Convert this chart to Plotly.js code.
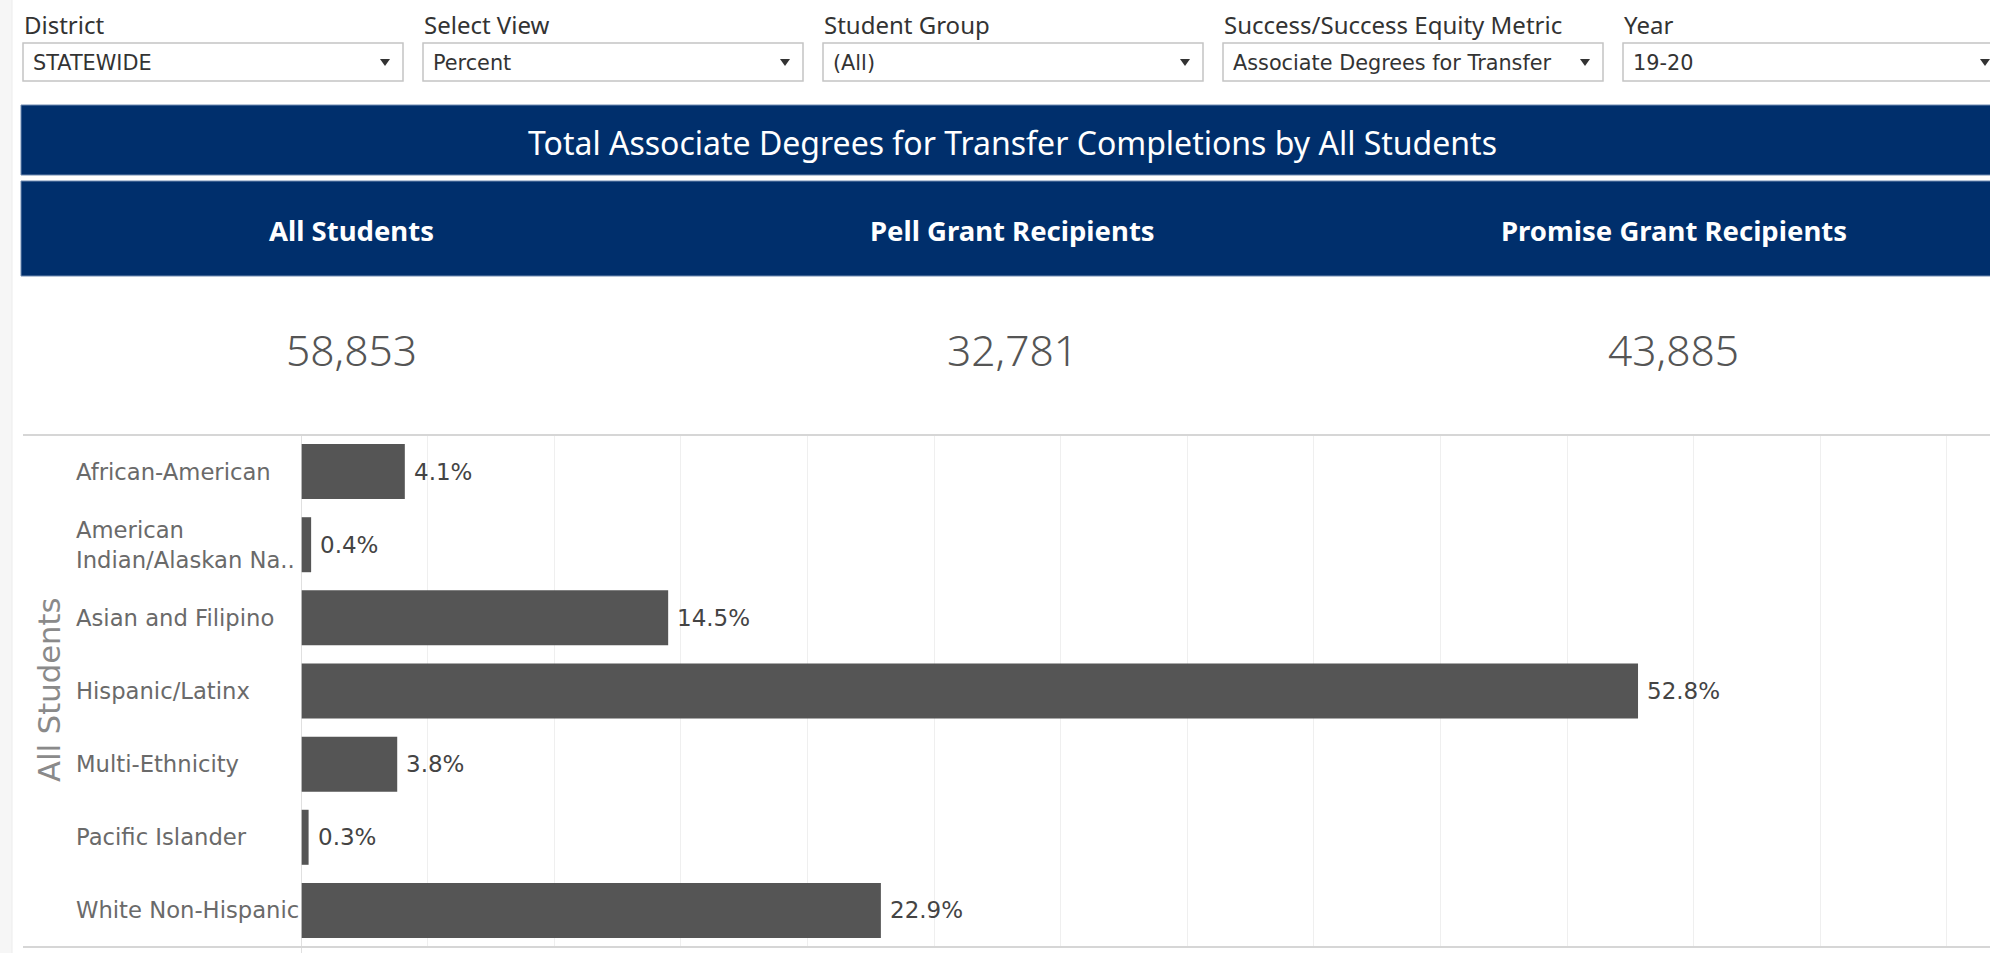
<!DOCTYPE html>
<html>
<head>
<meta charset="utf-8">
<script src="https://cdn.plot.ly/plotly-3.0.1.min.js"></script>
<style>
html,body{margin:0;padding:0;background:#fff;overflow:hidden;}
#chart{width:1990px;height:953px;}
</style>
</head>
<body>
<div id="chart"></div>
<script>
// ---- data ----
const categories = ["African-American", "American<br>Indian/Alaskan Na..", "Asian and Filipino", "Hispanic/Latinx", "Multi-Ethnicity", "Pacific Islander", "White Non-Hispanic"];
const percentValues = [4.1, 0.4, 14.5, 52.8, 3.8, 0.3, 22.9];
const groupName = "All Students";
const kpiLabels = ["All Students", "Pell Grant Recipients", "Promise Grant Recipients"];
const kpiValues = ["58,853", "32,781", "43,885"];
const chartTitle = "Total Associate Degrees for Transfer Completions by All Students";
const filterLabels = ["District", "Select View", "Student Group", "Success/Success Equity Metric", "Year"];
const filterValues = ["STATEWIDE", "Percent", "(All)", "Associate Degrees for Transfer", "19-20"];

// ---- layout geometry (pixels) ----
const W = 1990, H = 953, L = 301, R = 0, T = 435, B = 6;
const pw = W - L - R, ph = H - T - B;
const px = x => (x - L) / pw;
const py = y => (H - B - y) / ph;
const FONT = "Noto Sans, Open Sans, sans-serif";
const BOOK = "DejaVu Sans, Noto Sans, sans-serif";
const NAVY = "#002f6c";

const shapes = [];
const annotations = [];

// left strip
shapes.push({type: "rect", xref: "paper", yref: "paper", x0: px(0), x1: px(12), y0: py(953), y1: py(0),
  fillcolor: "#f6f6f6", line: {width: 0}, layer: "below"});
shapes.push({type: "line", xref: "paper", yref: "paper", x0: px(12), x1: px(12), y0: py(953), y1: py(0),
  line: {color: "#ececec", width: 1}});

// filters
const boxStart = 23, boxStep = 400, boxW = 380;
filterLabels.forEach((lab, i) => {
  const bx = boxStart + i * boxStep;
  annotations.push({xref: "paper", yref: "paper", x: px(bx - 1), y: py(24), xanchor: "left", yanchor: "middle",
    text: lab, showarrow: false, font: {family: FONT, size: 24, color: "#333"}});
  shapes.push({type: "rect", xref: "paper", yref: "paper", x0: px(bx), x1: px(bx + boxW), y0: py(81), y1: py(43),
    fillcolor: "#fff", line: {color: "#c4c4c4", width: 1.5}});
  annotations.push({xref: "paper", yref: "paper", x: px(bx + 8), y: py(63), xanchor: "left", yanchor: "middle",
    text: filterValues[i], showarrow: false, font: {family: BOOK, size: 20.8, color: "#333"}});
  const ax = bx + boxW - 18, ay = 62;
  shapes.push({type: "path", xref: "paper", yref: "paper",
    path: `M ${px(ax - 5)} ${py(ay - 3)} L ${px(ax + 5)} ${py(ay - 3)} L ${px(ax)} ${py(ay + 4)} Z`,
    fillcolor: "#333", line: {width: 0}});
});

// title band
const bandL = 21, bandR = 2004;
shapes.push({type: "rect", xref: "paper", yref: "paper", x0: px(bandL), x1: px(bandR), y0: py(175), y1: py(105),
  fillcolor: NAVY, line: {color: "#6f8ab0", width: 1}});
annotations.push({xref: "paper", yref: "paper", x: px((bandL + bandR) / 2), y: py(142), xanchor: "center", yanchor: "middle",
  text: chartTitle, showarrow: false, font: {family: FONT, size: 32, color: "#fff"}});

// KPI band
shapes.push({type: "rect", xref: "paper", yref: "paper", x0: px(bandL), x1: px(bandR), y0: py(276), y1: py(181),
  fillcolor: NAVY, line: {color: "#6f8ab0", width: 1}});
const colW = (bandR - bandL) / 3;
kpiLabels.forEach((lab, i) => {
  const cx = bandL + colW * (i + 0.5);
  annotations.push({xref: "paper", yref: "paper", x: px(cx), y: py(230), xanchor: "center", yanchor: "middle",
    text: "<b>" + lab + "</b>", showarrow: false, font: {family: FONT, size: 27.5, color: "#fff"}});
  annotations.push({xref: "paper", yref: "paper", x: px(cx), y: py(349), xanchor: "center", yanchor: "middle",
    text: kpiValues[i], showarrow: false, font: {family: FONT, size: 42.5, color: "#555", weight: 300}});
});

// chart borders
shapes.push({type: "line", xref: "paper", yref: "paper", x0: px(23), x1: px(W), y0: py(435), y1: py(435),
  line: {color: "#d6d6d6", width: 2}});
shapes.push({type: "line", xref: "paper", yref: "paper", x0: px(23), x1: px(W), y0: py(947), y1: py(947),
  line: {color: "#d6d6d6", width: 2}});
shapes.push({type: "line", xref: "x", yref: "paper", x0: 0, x1: 0, y0: py(953), y1: py(435),
  line: {color: "#d6d6d6", width: 1.5}});

// row labels
categories.forEach(c => {
  annotations.push({xref: "paper", yref: "y", x: px(74), y: c, xanchor: "left", yanchor: "middle", align: "left",
    text: c, showarrow: false, font: {family: BOOK, size: 22.7, color: "#6a6a6a"}});
});
// value labels
percentValues.forEach((v, i) => {
  annotations.push({xref: "x", yref: "y", x: v, y: categories[i], xanchor: "left", yanchor: "middle", xshift: 7,
    text: v.toFixed(1) + "%", showarrow: false, font: {family: BOOK, size: 23, color: "#444"}});
});
// group title (rotated)
annotations.push({xref: "paper", yref: "paper", x: px(49), y: py(690), xanchor: "center", yanchor: "middle",
  text: groupName, textangle: -90, showarrow: false, font: {family: BOOK, size: 30.7, color: "#8a8a8a"}});

const trace = {
  type: "bar", orientation: "h", x: percentValues, y: categories,
  marker: {color: "#555555", line: {width: 0}}, hoverinfo: "none"
};

const layout = {
  width: W, height: H,
  margin: {l: L, r: R, t: T, b: B, pad: 0},
  paper_bgcolor: "#fff", plot_bgcolor: "#fff",
  showlegend: false, bargap: 0.248,
  xaxis: {range: [0, 66.7], dtick: 5, tick0: 0, showgrid: true, gridcolor: "#efefef", gridwidth: 1,
    zeroline: false, showline: false, showticklabels: false, ticks: "", fixedrange: true},
  yaxis: {type: "category", categoryorder: "array", categoryarray: categories, range: [6.5, -0.5],
    showticklabels: false, showgrid: false, zeroline: false, showline: false, ticks: "", fixedrange: true},
  shapes: shapes,
  annotations: annotations,
  font: {family: FONT}
};

Plotly.newPlot("chart", [trace], layout, {displayModeBar: false, staticPlot: true});
</script>
</body>
</html>
